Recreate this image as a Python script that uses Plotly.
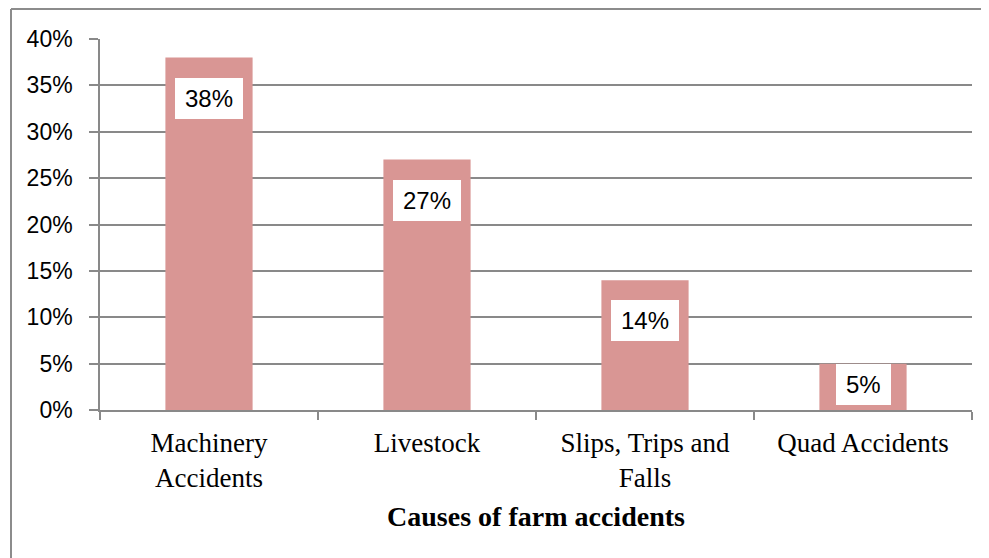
import plotly.graph_objects as go

categories = ["Machinery<br>Accidents", "Livestock", "Slips, Trips and<br>Falls", "Quad Accidents"]
values = [0.38, 0.27, 0.14, 0.05]
label_texts = ["38%", "27%", "14%", "5%"]
y_tickvals = [0, 0.05, 0.10, 0.15, 0.20, 0.25, 0.30, 0.35, 0.40]
y_ticktext = ["0%", "5%", "10%", "15%", "20%", "25%", "30%", "35%", "40%"]
x_title = "Causes of farm accidents"

BAR = "#D99694"
GRID = "#898989"

# page has an 8px body margin; figure sized to fit inside the window
W, H = 981, 550
L, R, T, B = 92, 17, 31, 148
plot_w = W - L - R
plot_h = H - T - B

fig = go.Figure()
fig.add_trace(go.Bar(
    x=categories, y=values, marker=dict(color=BAR, line=dict(width=0)),
    width=0.4, hoverinfo="skip",
))

y_max = 0.40
for c, v, t in zip(categories, values, label_texts):
    bar_px = v / y_max * plot_h
    shift = -20 if bar_px > 62 else 0
    fig.add_annotation(
        x=c, y=v, xref="x", yref="y", text=t, showarrow=False,
        yanchor="top", yshift=shift,
        font=dict(family="Liberation Sans, Arial, sans-serif", size=24, color="#000000"),
        bgcolor="#FFFFFF", borderpad=10, borderwidth=0, height=21,
    )

# outer chart border: only the left and top sides fall inside the picture
bx0 = (3 - L) / plot_w
bx1 = (W - L) / plot_w
by0 = -B / plot_h
by1 = (plot_h + T - 1) / plot_h
border = dict(color="#8C8C8C", width=2)
fig.add_shape(type="line", xref="paper", yref="paper", x0=bx0, x1=bx0, y0=by0, y1=by1,
              line=border, layer="below")
fig.add_shape(type="line", xref="paper", yref="paper", x0=bx0, x1=bx1, y0=by1, y1=by1,
              line=border, layer="below")

fig.update_layout(
    width=W, height=H,
    margin=dict(l=L, r=R, t=T, b=B),
    paper_bgcolor="#FFFFFF", plot_bgcolor="#FFFFFF",
    showlegend=False, bargap=0.6,
    xaxis=dict(
        type="category", showgrid=False, ticks="outside", tickson="boundaries",
        ticklen=8, tickcolor=GRID, tickwidth=1.5, ticklabelstandoff=8,
        showline=True, linecolor=GRID, linewidth=1.5,
        tickfont=dict(family="Liberation Serif, Times New Roman, serif", size=27, color="#000000"),
        title=dict(text="<b>" + x_title + "</b>", standoff=14,
                   font=dict(family="Liberation Serif, Times New Roman, serif", size=28, color="#000000")),
        fixedrange=True,
    ),
    yaxis=dict(
        range=[0, y_max], tickvals=y_tickvals, ticktext=y_ticktext,
        showgrid=True, gridcolor=GRID, gridwidth=1.5,
        ticks="outside", ticklen=9, tickcolor=GRID, tickwidth=1.5, ticklabelstandoff=12,
        showline=True, linecolor=GRID, linewidth=1.5,
        zeroline=False,
        tickfont=dict(family="Liberation Sans, Arial, sans-serif", size=23, color="#000000"),
        fixedrange=True,
    ),
)

fig.write_html("out.html", config={"displayModeBar": False})
